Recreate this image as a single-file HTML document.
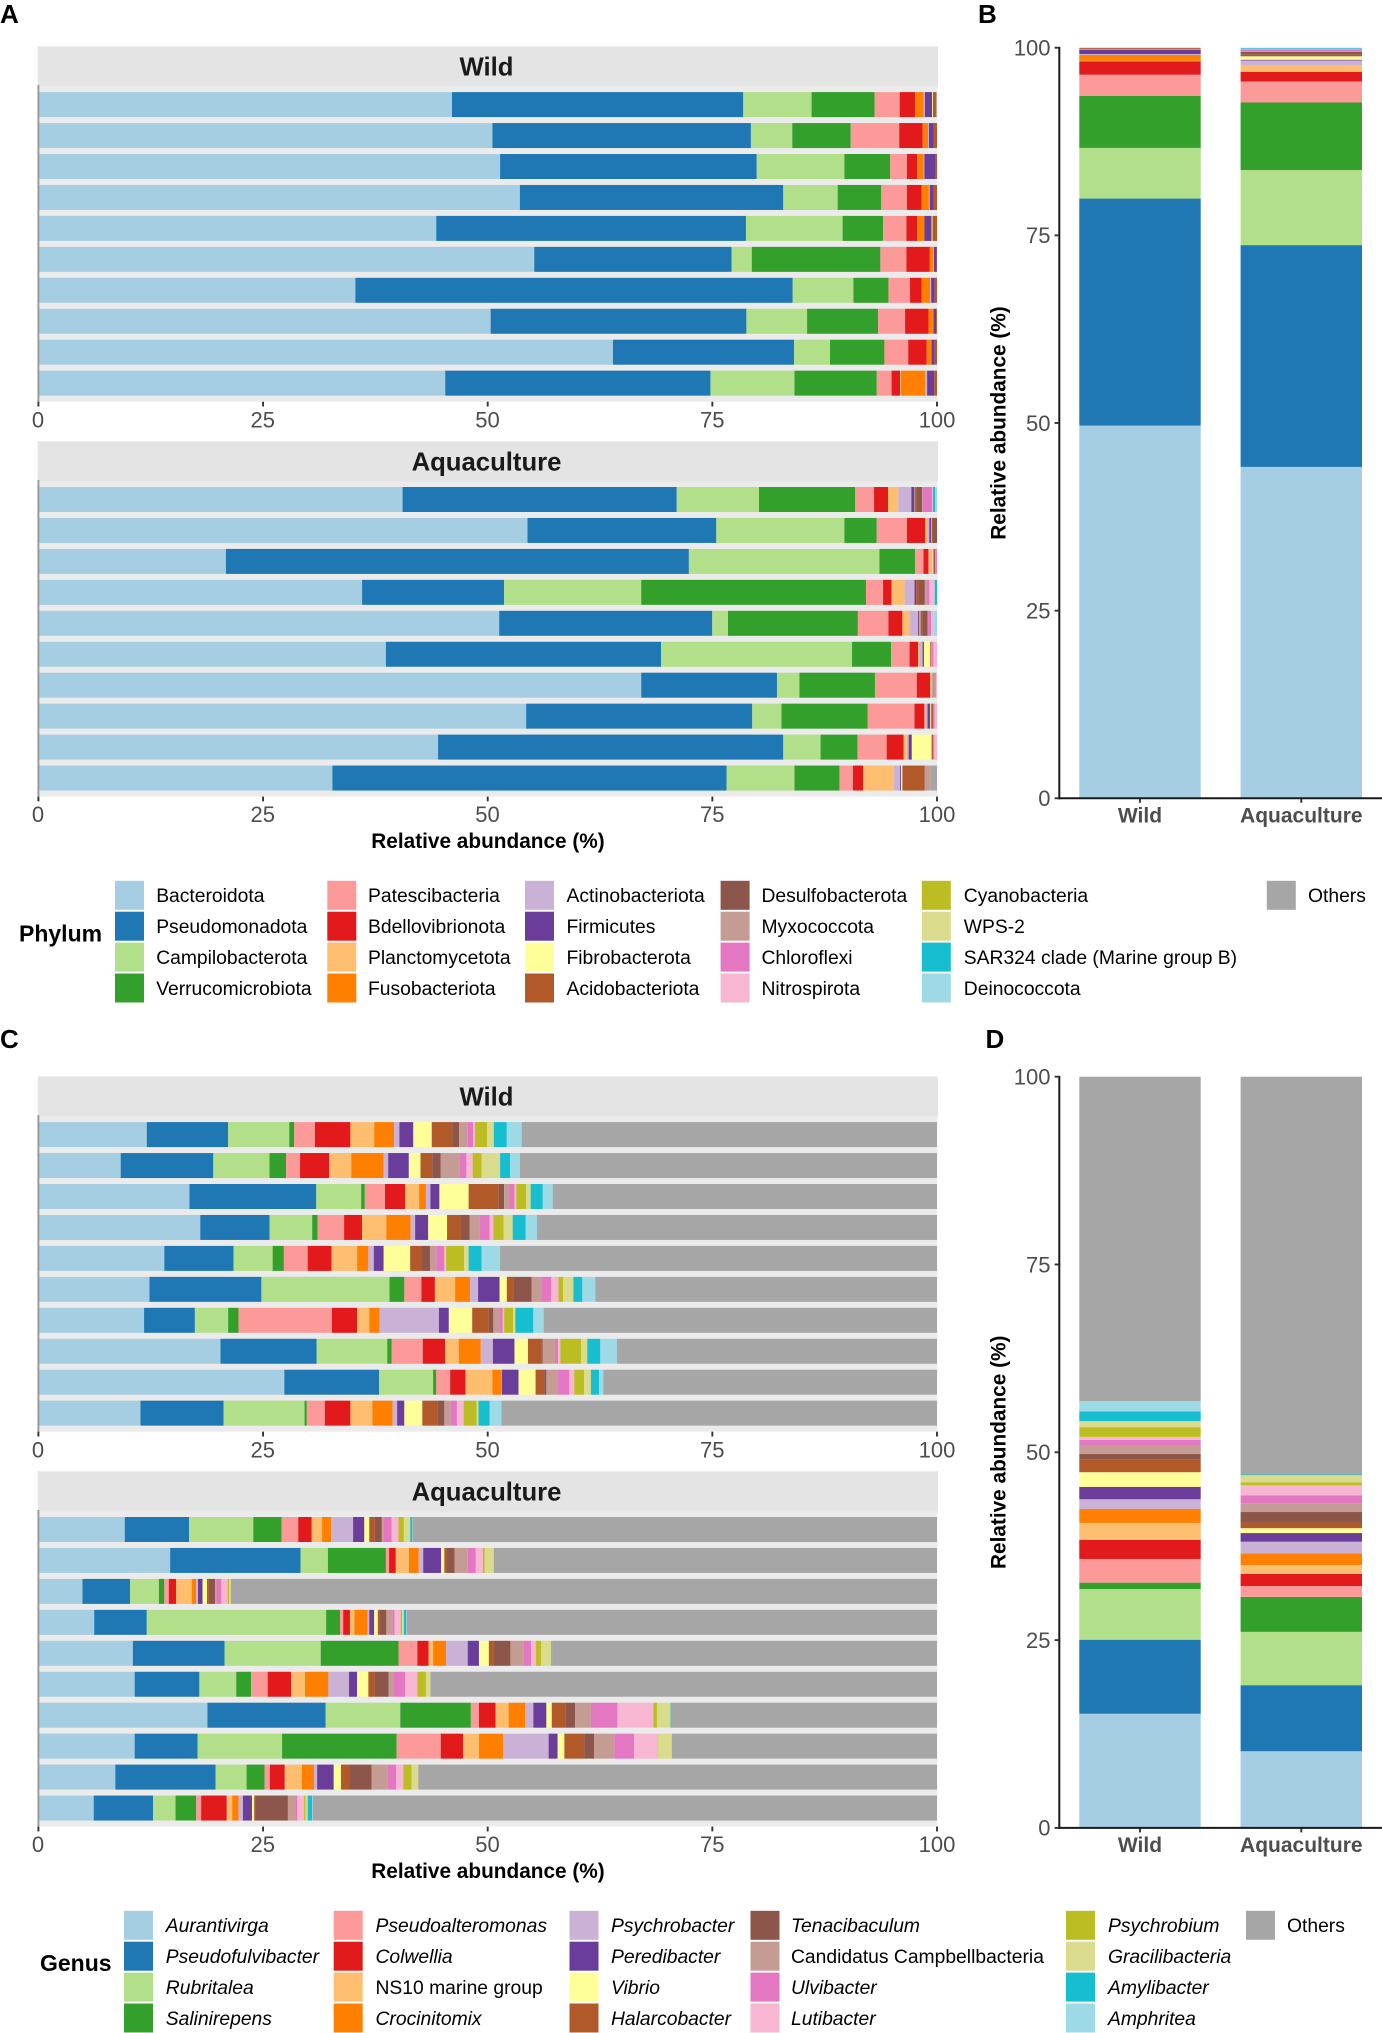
<!DOCTYPE html>
<html lang="en">
<head>
<meta charset="utf-8">
<title>Relative abundance by phylum and genus</title>
<style>
html,body{margin:0;padding:0;background:#fff;}
svg{display:block;font-family:"Liberation Sans",sans-serif;}
</style>
</head>
<body>
<svg id="figure" xmlns="http://www.w3.org/2000/svg" width="1382" height="2033" viewBox="0 0 1382 2033">
  <rect width="1382" height="2033" fill="#ffffff"/>
  <text x="0" y="23" font-size="26" font-weight="700" fill="#000">A</text>
  <text x="978" y="23" font-size="26" font-weight="700" fill="#000">B</text>
  <text x="0" y="1048" font-size="26" font-weight="700" fill="#000">C</text>
  <text x="985.5" y="1048" font-size="26" font-weight="700" fill="#000">D</text>
</svg>
<script>
const taxonColors = ['#A6CEE3','#1F78B4','#B2DF8A','#33A02C','#FB9A99','#E31A1C','#FDBF6F','#FF7F00','#CAB2D6','#6A3D9A','#FFFF99','#B15928','#8C564B','#C49C94','#E377C2','#F7B6D2','#BCBD22','#DBDB8D','#17BECF','#9EDAE5','#A6A6A6'];
const phylumNames = ['Bacteroidota','Pseudomonadota','Campilobacterota','Verrucomicrobiota','Patescibacteria','Bdellovibrionota','Planctomycetota','Fusobacteriota','Actinobacteriota','Firmicutes','Fibrobacterota','Acidobacteriota','Desulfobacterota','Myxococcota','Chloroflexi','Nitrospirota','Cyanobacteria','WPS-2','SAR324 clade (Marine group B)','Deinococcota','Others'];
const genusNames = ['Aurantivirga','Pseudofulvibacter','Rubritalea','Salinirepens','Pseudoalteromonas','Colwellia','NS10 marine group','Crocinitomix','Psychrobacter','Peredibacter','Vibrio','Halarcobacter','Tenacibaculum','Candidatus Campbellbacteria','Ulvibacter','Lutibacter','Psychrobium','Gracilibacteria','Amylibacter','Amphritea','Others'];
const uprightGenus = ['NS10 marine group','Candidatus Campbellbacteria','Others'];
const groupNames = ['Wild','Aquaculture'];
const xTickLabels = [0,25,50,75,100];
const yTickLabels = [0,25,50,75,100];

const phylumWild = [
 [46.05,32.4,7.6,7.0,2.8,1.7,0,.95,.15,.8,.1,.25,.1,.1,0,0,0,0,0,0,0],
 [50.55,28.75,4.6,6.5,5.4,2.6,0,.6,.1,.55,0,.35,0,0,0,0,0,0,0,0,0],
 [51.4,28.55,9.75,5.1,1.85,1.15,0,.7,.1,1.25,0,.15,0,0,0,0,0,0,0,0,0],
 [53.6,29.3,6.05,4.85,2.85,1.65,0,.8,.1,.45,0,.35,0,0,0,0,0,0,0,0,0],
 [44.3,34.45,10.75,4.5,2.6,1.2,0,.8,0,.8,.1,.5,0,0,0,0,0,0,0,0,0],
 [55.2,21.95,2.25,14.3,2.9,2.6,0,.35,.1,.3,0,.05,0,0,0,0,0,0,0,0,0],
 [35.3,48.65,6.75,3.9,2.4,1.3,0,.95,.1,.4,0,.25,0,0,0,0,0,0,0,0,0],
 [50.35,28.45,6.75,7.9,3.0,2.6,0,.5,.05,.3,0,.1,0,0,0,0,0,0,0,0,0],
 [63.95,20.15,4,6.05,2.65,2.05,0,.55,0,.35,0,.25,0,0,0,0,0,0,0,0,0],
 [45.3,29.5,9.35,9.15,1.65,.95,.1,2.7,.2,.8,0,.3,0,0,0,0,0,0,0,0,0]
];
const phylumAqua = [
 [40.55,30.5,9.15,10.7,2.1,1.55,1.15,0,1.45,.35,.05,.2,.6,.05,1.05,.1,0,0,.25,.2,0],
 [54.45,21,14.25,3.6,3.35,2.05,.2,0,.25,.2,.05,.15,.45,0,0,0,0,0,0,0,0],
 [20.9,51.5,21.2,3.95,.95,.55,.25,0,.2,0,.1,.2,0,.1,.1,0,0,0,0,0,0],
 [36.05,15.8,15.25,25,1.9,.95,1.45,0,1.1,.2,0,.3,.65,.2,.3,.6,0,0,.25,0,0],
 [51.3,23.7,1.75,14.45,3.4,1.55,.8,0,.95,.15,.1,.2,.6,.1,.3,.3,0,0,0,.35,0],
 [38.7,30.6,21.25,4.35,2.05,.95,.15,0,.35,.15,.7,.1,0,.1,.15,.4,0,0,0,0,0],
 [67.1,15.1,2.5,8.4,4.65,1.5,.1,0,.1,.05,.1,.1,0,.1,.1,.1,0,0,0,0,0],
 [54.3,25.15,3.25,9.6,5.2,1.1,.1,0,.25,.3,.1,.2,0,0,.2,.25,0,0,0,0,0],
 [44.5,38.4,4.15,4.1,3.25,1.9,.35,0,.2,.35,2.2,.15,0,0,.15,.3,0,0,0,0,0],
 [32.75,43.85,7.55,5,1.5,1.15,3.4,0,.7,.1,.15,2.45,.05,.65,0,0,0,0,0,0,.7]
];
const phylumGroupMeans = [
 [49.65,30.25,6.75,6.95,2.8,1.8,.05,.8,.1,.55,.05,.2,0,.05,0,0,0,0,0,0,0],
 [44.15,29.55,10,9,2.8,1.3,.8,0,.7,.1,.45,.2,.4,.05,.3,.05,0,0,.1,.05,0]
];
const genusWild = [
 [12.1,9.05,6.8,.55,2.3,3.95,2.65,2.2,.6,1.55,2.05,2.3,.75,.95,.6,.2,1.35,.75,1.45,1.65,46.2],
 [9.2,10.3,6.25,1.85,1.55,3.25,2.45,3.6,.5,2.3,1.3,1.3,.95,2.1,.75,.7,1,2.05,1.1,1.1,46.4],
 [16.85,14.1,5,.4,2.25,2.25,1.55,.75,.5,1,3.25,3.35,.6,.55,.6,.2,1.1,.5,1.35,1.1,42.75],
 [18.05,7.7,4.75,.6,2.95,2,2.7,2.7,.5,1.45,2.1,1.55,.95,1.15,1.1,.4,1.15,1,1.45,1.25,44.5],
 [14.05,7.7,4.35,1.25,2.65,2.65,2.85,1.25,.6,1.1,2.95,1.25,.95,.7,.9,.2,2,.5,1.45,2.05,48.6],
 [12.4,12.45,14.25,1.65,1.9,1.5,2.25,1.65,.9,2.4,.8,.75,2,1.1,1.1,.8,.5,1.15,1,1.45,38],
 [11.8,5.65,3.7,1.15,10.4,2.8,1.35,1.15,6.6,1.1,2.6,1.85,.5,.7,.35,.15,1,.25,2,1.15,43.75],
 [20.3,10.7,7.85,.5,3.45,2.5,1.5,2.45,1.35,2.4,1.5,1.55,.1,1.35,.35,.25,2.3,.7,1.45,1.85,35.6],
 [27.4,10.55,6,.35,1.55,1.7,3,1,.05,1.85,1.9,.95,.25,1.3,1.25,.55,1.1,.75,.9,.5,37.1],
 [11.4,9.25,9,.25,2,2.85,2.45,2.25,.5,.8,2,1.7,.75,.7,.7,.75,1.45,.2,1.25,1.3,48.45]
];
const genusAqua = [
 [9.65,7.15,7.15,3.15,1.85,1.5,1.15,1,2.45,1.25,.55,.6,.8,.2,.9,.75,.6,.7,.2,.05,58.35],
 [14.7,14.5,3.05,6.45,.35,.75,1.45,1.1,.5,2,.35,.25,.9,1.45,.9,.8,.2,1,0,0,49.3],
 [4.95,5.3,3.2,.6,.5,.8,1.75,.5,.2,.5,.5,.2,.7,.15,.55,.7,.15,.2,0,0,78.55],
 [6.25,5.85,19.95,1.55,.35,.75,.5,1.45,.2,.55,.4,.2,.75,.7,.2,.7,.15,.2,.25,.05,59],
 [10.55,10.2,10.7,8.65,2.1,1.25,.5,1.45,2.4,1.25,1.1,.5,1.9,1.5,.8,.55,.55,1.15,.1,0,42.8],
 [10.75,7.2,4.1,1.65,1.85,2.6,1.55,2.6,2.3,.9,1.25,.7,1.55,.6,1.25,1.35,.95,.5,0,0,56.35],
 [18.85,13.15,8.3,7.85,.9,1.85,1.45,1.85,.9,1.45,.6,1.5,1.1,1.75,2.95,4,.4,1.5,.05,0,29.6],
 [10.75,7,9.4,12.75,4.9,2.5,1.75,2.7,5.05,1,.75,2.2,1.1,2.25,2.2,2.65,.05,1.5,0,0,29.5],
 [8.6,11.15,3.45,2,.6,1.65,1.9,1.35,.35,1.85,.8,.9,2.5,1.75,1,.8,.9,.75,0,0,57.7],
 [6.2,6.6,2.5,2.3,.55,2.85,.6,.7,.5,1,.25,.2,3.55,.9,.15,.75,.15,.25,.5,.05,69.45]
];
const genusGroupMeans = [
 [15.2,9.85,6.75,.85,3.15,2.55,2.25,1.85,1.3,1.65,1.95,1.65,.8,1.1,.75,.4,1.3,.8,1.3,1.35,43.2],
 [10.2,8.8,7.1,4.65,1.45,1.6,1.2,1.55,1.55,1.15,.65,.75,1.4,1.15,1.05,1.35,.4,.95,.1,0,52.95]
];

const svg = document.getElementById('figure');
const SVG_NS = 'http://www.w3.org/2000/svg';
function make(tag, attrs, parent) {
  const node = document.createElementNS(SVG_NS, tag);
  for (const key in attrs) node.setAttribute(key, attrs[key]);
  (parent || svg).appendChild(node);
  return node;
}
function xScale(v) { return 38 + v * 8.99; }
function yScale(v, y0, yTop) { return y0 - v * (y0 - yTop) / 100; }
function catCenter(i) { return 1140 + i * 161.3; }

function drawFacet(rows, title, stripTop, prefix) {
  const g = make('g', {});
  
  
  const strip = make('rect', {x: 37.7, y: stripTop, width: 900.3, height: 40.2, fill: '#E4E4E4'}, g);
  
  
  const stripText = make('text', {x: 486.5, y: stripTop + 29, 'font-size': 25.7, 'font-weight': 700, fill: '#1A1A1A', 'text-anchor': 'middle'}, g);
  stripText.textContent = title;
  
  
  const panelBottom = stripTop + 355.3;
  const panel = make('rect', {x: 38, y: stripTop + 40.2, width: 899.4, height: 315.1, fill: '#EBEBEB'}, g);
  
  
  rows.forEach(function (row, r) {
    const top = stripTop + 45.7 + r * 30.95;
    let cum = 0;
    row.forEach(function (value, t) {
      if (value <= 0) return;
      const seg = make('rect', {x: xScale(cum), y: top, width: xScale(cum + value) - xScale(cum), height: 25, fill: taxonColors[t]}, g);
      
      
      cum += value;
    });
  });
  const axisLine = make('line', {x1: 38.4, x2: 38.4, y1: stripTop + 38.7, y2: panelBottom, stroke: '#999999', 'stroke-width': 1.9}, g);
  
  
  xTickLabels.forEach(function (tick) {
    const mark = make('line', {x1: xScale(tick) + 0.4 * (1 - tick / 100), x2: xScale(tick) + 0.4 * (1 - tick / 100), y1: panelBottom, y2: panelBottom + 4.8, stroke: '#333333', 'stroke-width': 1.9}, g);
    
    
    const label = make('text', {x: xScale(tick), y: panelBottom + 25.6, 'font-size': 22, fill: '#4D4D4D', 'text-anchor': 'middle'}, g);
    label.textContent = tick;
    
    
  });
}

function drawAxisTitle(y, name) {
  const t = make('text', {x: 488, y: y, 'font-size': 20.8, 'font-weight': 700, fill: '#000', 'text-anchor': 'middle'});
  t.textContent = 'Relative abundance (%)';
  
  
}

function drawColumns(groups, y0, yTop, prefix) {
  const g = make('g', {});
  
  
  groups.forEach(function (values, i) {
    let cum = 0;
    values.forEach(function (value, t) {
      if (value <= 0) return;
      const segTop = yScale(cum + value, y0, yTop);
      const seg = make('rect', {x: catCenter(i) - 60.7, y: segTop, width: 121.4, height: yScale(cum, y0, yTop) - segTop, fill: taxonColors[t]}, g);
      
      
      cum += value;
    });
    const mark = make('line', {x1: catCenter(i), x2: catCenter(i), y1: y0, y2: y0 + 4.5, stroke: '#333333', 'stroke-width': 1.9}, g);
    
    
    const label = make('text', {x: catCenter(i), y: y0 + 24, 'font-size': 21, 'font-weight': 700, fill: '#4D4D4D', 'text-anchor': 'middle'}, g);
    label.textContent = groupNames[i];
    
    
  });
  const yLine = make('line', {x1: 1059.3, x2: 1059.3, y1: yTop - 0.8, y2: y0 + 1, stroke: '#1A1A1A', 'stroke-width': 2}, g);
  
  
  const xLine = make('line', {x1: 1058.3, x2: 1382, y1: y0, y2: y0, stroke: '#1A1A1A', 'stroke-width': 2}, g);
  
  
  yTickLabels.forEach(function (tick) {
    const tickY = yScale(tick, y0, yTop);
    const mark = make('line', {x1: 1054.6, x2: 1059, y1: tickY, y2: tickY, stroke: '#333333', 'stroke-width': 1.9}, g);
    
    
    const label = make('text', {x: 1050.5, y: tickY + 7.8, 'font-size': 22, fill: '#4D4D4D', 'text-anchor': 'end'}, g);
    label.textContent = tick;
    
    
  });
  const cy = yScale(50, y0, yTop);
  const title = make('text', {x: 0, y: 0, 'font-size': 20.8, 'font-weight': 700, fill: '#000', 'text-anchor': 'middle', transform: 'translate(1005.6 ' + cy + ') rotate(-90)'}, g);
  title.textContent = 'Relative abundance (%)';
  
  
}

function drawLegend(names, heading, headingX, headingY, top, swatchXs, textXs, prefix) {
  const g = make('g', {});
  
  
  const head = make('text', {x: headingX, y: headingY, 'font-size': 23, 'font-weight': 700, fill: '#000'}, g);
  head.textContent = heading;
  
  
  names.forEach(function (name, i) {
    const col = Math.floor(i / 4);
    const row = i % 4;
    const y = top + row * 30.9;
    const swatch = make('rect', {x: swatchXs[col], y: y, width: 29, height: 29, fill: taxonColors[i]}, g);
    
    
    const attrs = {x: textXs[col], y: y + 21.3, 'font-size': 19.3, fill: '#000'};
    if (prefix === 'genus' && uprightGenus.indexOf(name) < 0) attrs['font-style'] = 'italic';
    const label = make('text', attrs, g);
    label.textContent = name;
    
    
  });
}

drawFacet(phylumWild, groupNames[0], 46.4, 'phylum-wild');
drawFacet(phylumAqua, groupNames[1], 441.3, 'phylum-aquaculture');
drawAxisTitle(848, 'phylum-x-axis-title');
drawColumns(phylumGroupMeans, 798.3, 47.7, 'phylum-means');
drawLegend(phylumNames, 'Phylum', 19, 941.5, 880.8,
  [115, 327.3, 525, 720.6, 921.8, 1266.8], [156.2, 368, 566.5, 761.5, 963.8, 1308], 'phylum');

drawFacet(genusWild, groupNames[0], 1076.4, 'genus-wild');
drawFacet(genusAqua, groupNames[1], 1471.3, 'genus-aquaculture');
drawAxisTitle(1878, 'genus-x-axis-title');
drawColumns(genusGroupMeans, 1827.9, 1076.7, 'genus-means');
drawLegend(genusNames, 'Genus', 40, 1971, 1910.8,
  [124, 333.7, 569.5, 750.5, 1066, 1246], [165.8, 375.5, 611, 791, 1108, 1287], 'genus');
</script>
</body>
</html>
